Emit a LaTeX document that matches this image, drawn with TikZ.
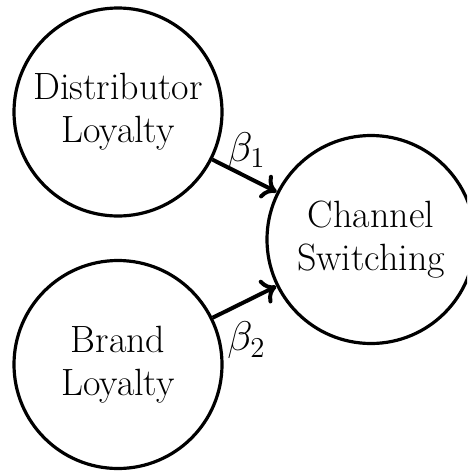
\documentclass[tikz,border=0pt]{standalone}
\usetikzlibrary{arrows.meta}
\begin{document}
\begin{tikzpicture}[x=0.5pt,y=-0.5pt,
  construct/.style={circle, draw, line width=1.6pt, minimum size=104pt,
    inner sep=0pt, align=center, font=\fontsize{19}{21.5}\selectfont},
  path/.style={line width=2pt, -{To[length=7pt,width=13pt]}},
  coef/.style={font=\fontsize{21}{24}\selectfont, inner sep=2pt}]
  \useasboundingbox (0,0) rectangle (467,471);
  \begin{scope}
    \clip (0,0) rectangle (467,471);
    \node[construct] (dl) at (118,112) {Distributor\\Loyalty};
    \node[construct] (bl) at (118,364.5) {Brand\\Loyalty};
    \node[construct] (cs) at (371,239.5) {Channel\\Switching};
    \draw[path] (dl) -- node[coef, above, xshift=1pt, yshift=0pt] {$\beta_1$} (cs);
    \draw[path] (bl) -- node[coef, below, xshift=1pt, yshift=-7pt] {$\beta_2$} (cs);
  \end{scope}
\end{tikzpicture}
\end{document}
